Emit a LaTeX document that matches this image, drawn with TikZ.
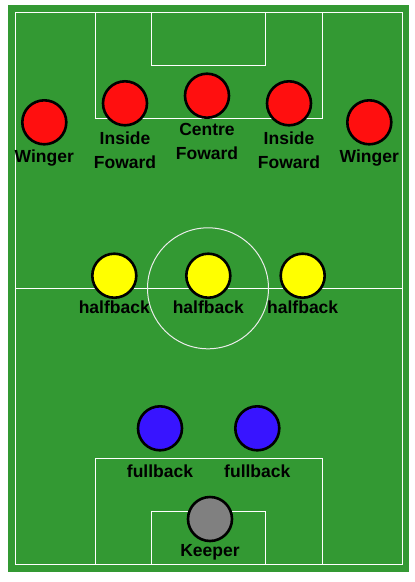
\documentclass[tikz,border=0pt]{standalone}
\usepackage{fontspec}
\setmainfont{Liberation Sans}
\usetikzlibrary{positioning}
\definecolor{pitch}{RGB}{51,153,51}
\definecolor{fwd}{RGB}{255,15,15}
\definecolor{half}{RGB}{255,255,0}
\definecolor{full}{RGB}{56,20,255}
\definecolor{keep}{RGB}{128,128,128}
\begin{document}
\begin{tikzpicture}[x=1pt,y=-1pt,
		player/.style={circle,draw=black,line width=2.6pt,minimum size=44pt,inner sep=0pt},
		lbl/.style={inner sep=0pt,align=center,font=\fontsize{17.5}{23.7}\selectfont\bfseries},
		pitchline/.style={draw=white,line width=1pt}]
		\useasboundingbox (0,0) rectangle (415,582);
		% pitch
		\fill[pitch] (8,5) rectangle (409,572);
		\draw[pitchline] (15.5,12.5) rectangle (402,564);
		\draw[pitchline] (95.5,12.5) rectangle (322.5,118);
		\draw[pitchline] (151.5,12.5) rectangle (265.5,65);
		\draw[pitchline] (95.5,564) rectangle (322.5,458.3);
		\draw[pitchline] (151.5,564) rectangle (265.5,511.7);
		\draw[pitchline] (15.5,288.3) -- (402,288.3);
		\draw[pitchline,draw=white!85!gray] (208,288.3) circle (60.5);
		
		% forwards
		\node[player,fill=fwd] (w1) at (44.3,122.3) {};
		\node[player,fill=fwd] (if1) at (125,103.3) {};
		\node[player,fill=fwd] (cf) at (207,95.7) {};
		\node[player,fill=fwd] (if2) at (289,103.3) {};
		\node[player,fill=fwd] (w2) at (369.3,122.3) {};
		
		% halfbacks
		\node[player,fill=half] (h1) at (114.3,275.7) {};
		\node[player,fill=half] (h2) at (208.3,275.7) {};
		\node[player,fill=half] (h3) at (302.7,275.7) {};
		
		% fullbacks, keeper
		\node[player,fill=full] (f1) at (160,428.3) {};
		\node[player,fill=full] (f2) at (257.3,428.3) {};
		\node[player,fill=keep] (k) at (210,519) {};
		
		% labels
		\node[lbl] (lw1) [below=4.5pt of w1] {Winger};
		\node[lbl] (lif1) [below=5pt of if1] {Inside\\Foward};
		\node[lbl] (lcf) [below=4.3pt of cf] {Centre\\Foward};
		\node[lbl] (lif2) [below=5pt of if2] {Inside\\Foward};
		\node[lbl] (lw2) [below=4.5pt of w2] {Winger};
		\node[lbl] (lh1) [below=2pt of h1] {halfback};
		\node[lbl] (lh2) [below=2pt of h2] {halfback};
		\node[lbl] (lh3) [below=2pt of h3] {halfback};
		\node[lbl] (lf1) [below=13pt of f1] {fullback};
		\node[lbl] (lf2) [below=13pt of f2] {fullback};
		\node[lbl] (lk) [below=2pt of k] {Keeper};
\end{tikzpicture}
\end{document}
